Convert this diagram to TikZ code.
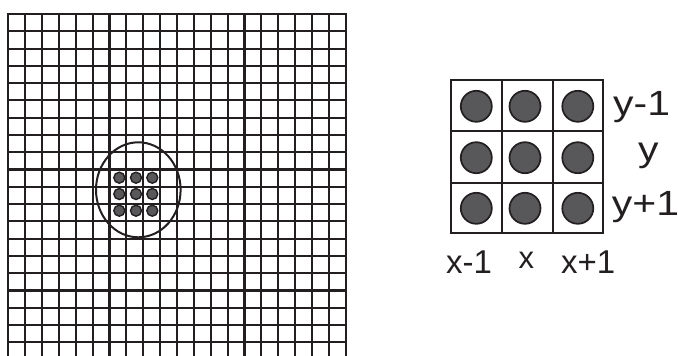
\documentclass[tikz,border=0pt]{standalone}
\usepackage{graphicx}
\usepackage{fontspec}
\setmainfont{Liberation Sans}
\definecolor{ink}{RGB}{35,31,32}
\definecolor{dotgray}{RGB}{88,88,90}
\newcommand{\widetext}[1]{\scalebox{1.17}[1]{#1}}
\begin{document}
\begin{tikzpicture}[x=1pt,y=-1pt,
  gridline/.style={line width=2.1pt, draw=ink},
  boxline/.style={line width=1.8pt, draw=ink},
  bigdot/.style={circle, draw=ink, line width=1.7pt, fill=dotgray, minimum size=31pt, inner sep=0pt},
  smalldot/.style={circle, draw=ink, line width=1.4pt, fill=dotgray, minimum size=11pt, inner sep=0pt},
  lbl/.style={anchor=base west, inner sep=0pt, text=ink, font=\fontsize{33}{33}\selectfont},
  ylbl/.style={lbl, font=\fontsize{35}{35}\selectfont}]
\useasboundingbox (0,0) rectangle (678,356);
% big grid
\foreach \k in {0,...,20}
  \draw[gridline] ({8.3+\k*16.87},14) -- ({8.3+\k*16.87},356);
\foreach \k in {0,...,19}
  \draw[gridline] (7.3,{14+\k*17.28}) -- (346.7,{14+\k*17.28});
% ellipse around neighbourhood
\draw[line width=2pt, draw=ink] (138.3,189.8) ellipse [x radius=42.3, y radius=47.5];
% small dots
\foreach \i/\x in {1/119.3,2/136,3/152.3}
  \foreach \j/\y in {1/177.7,2/194,3/210.7}
    \node[smalldot] (s\i\j) at (\x,\y) {};
% right 3x3 grid
\draw[boxline, line width=2.1pt] (450.7,80) rectangle (603.3,233.3);
\draw[boxline] (501.7,80) -- (501.7,233.3);
\draw[boxline] (552.7,80) -- (552.7,233.3);
\draw[boxline] (450.7,131) -- (603.3,131);
\draw[boxline] (450.7,182.7) -- (603.3,182.7);
\foreach \i/\x in {1/476.3,2/525,3/577.8}
  \foreach \j/\y in {1/106.3,2/157.7,3/208.3}
    \node[bigdot] (b\i\j) at (\x,\y) {};
% labels
\node[ylbl] (ym) at (613,115) {\widetext{y-1}};
\node[ylbl] (y0) at (638,161.7) {\widetext{y}};
\node[ylbl] (yp) at (611.7,215) {\widetext{y+1}};
\node[lbl] (xm) at (446,273.3) {x-1};
\node[lbl, font=\fontsize{31}{31}\selectfont] (x0) at (518.5,268.3) {x};
\node[lbl] (xp) at (561,273.3) {x+1};
\end{tikzpicture}
\end{document}
